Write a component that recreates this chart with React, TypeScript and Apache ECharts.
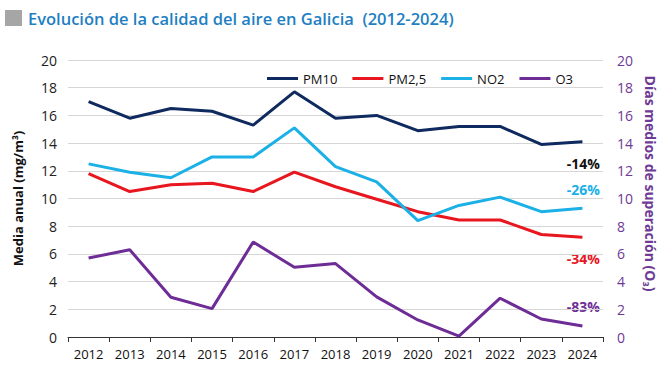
import React, { useEffect, useRef } from "react";
import * as echarts from "echarts";

const years = ["2012","2013","2014","2015","2016","2017","2018","2019","2020","2021","2022","2023","2024"];
const pm10 = [17.0, 15.8, 16.5, 16.3, 15.3, 17.7, 15.8, 16.0, 14.9, 15.2, 15.2, 13.9, 14.1];
const pm25 = [11.8, 10.5, 11.0, 11.1, 10.5, 11.9, 10.85, 9.95, 9.05, 8.45, 8.45, 7.4, 7.2];
const no2 = [12.5, 11.9, 11.5, 13.0, 13.0, 15.1, 12.3, 11.2, 8.4, 9.5, 10.1, 9.05, 9.3];
const o3 = [5.7, 6.3, 2.87, 2.05, 6.86, 5.03, 5.3, 2.9, 1.23, 0.07, 2.8, 1.3, 0.8];
const seriesNames = ["PM10", "PM2,5", "NO2", "O3"];
const changeLabels = ["-14%", "-26%", "-34%", "-83%"];
const titleText = "Evolución de la calidad del aire en Galicia  (2012-2024)";
const leftAxisName = "Media anual (mg/m³)";
const rightAxisName = "Días medios de superación (O₃)";

const colors = ["#0f2a5e", "#e8161e", "#1bb0e6", "#6e2c96"];
const FONT = "'Open Sans', 'Noto Sans', sans-serif";

export default function App() {
  const ref = useRef<HTMLDivElement>(null);
  useEffect(() => {
    document.body.style.margin = "0";
    const chart = echarts.init(ref.current!, null, { renderer: "svg" });
    const mk = (name: string, data: number[], color: string, yAxisIndex = 0) => ({
      name,
      type: "line",
      data,
      yAxisIndex,
      symbol: "none",
      lineStyle: { color, width: 3 },
      itemStyle: { color },
    });
    const annY = [163, 189, 258, 306];
    const annColors = ["#111", colors[2], colors[1], colors[3]];
    chart.setOption({
      animation: false,
      textStyle: { fontFamily: FONT },
      grid: { left: 68, right: 66, top: 60, bottom: 36 },
      legend: {
        left: 262,
        top: 67,
        icon: "rect",
        itemWidth: 31,
        itemHeight: 3,
        itemGap: 15,
        textStyle: { fontSize: 13, color: "#111", fontFamily: FONT },
        data: seriesNames,
      },
      xAxis: {
        type: "category",
        data: years,
        boundaryGap: true,
        axisLine: { lineStyle: { color: "#333", width: 1 } },
        axisTick: { show: true, length: 5, lineStyle: { color: "#333" } },
        axisLabel: { color: "#111", fontSize: 13, margin: 10 },
      },
      yAxis: [
        {
          type: "value",
          min: 0,
          max: 20,
          interval: 2,
          name: leftAxisName,
          nameLocation: "middle",
          nameGap: 44,
          nameTextStyle: { fontWeight: "bold", fontSize: 13, color: "#111" },
          axisLabel: { color: "#222", fontSize: 14, margin: 11 },
          axisLine: { show: false },
          axisTick: { show: false },
          splitLine: { lineStyle: { color: "#d6d6d6", width: 1 } },
        },
        {
          type: "value",
          min: 0,
          max: 20,
          interval: 2,
          position: "right",
          name: rightAxisName,
          nameLocation: "middle",
          nameGap: 37,
          nameRotate: -90,
          nameTextStyle: { fontWeight: "bold", fontSize: 14, color: "#6e3a96", padding: [0, 30, 0, 0] },
          axisLabel: { color: "#6e3a96", fontSize: 14, margin: 14 },
          axisLine: { show: false },
          axisTick: { show: false },
          splitLine: { show: false },
        },
      ],
      series: [
        mk(seriesNames[0], pm10, colors[0]),
        mk(seriesNames[1], pm25, colors[1]),
        mk(seriesNames[2], no2, colors[2]),
        mk(seriesNames[3], o3, colors[3], 1),
      ],
      graphic: [
        { type: "rect", shape: { x: 5, y: 10, width: 17, height: 16 }, style: { fill: "#a6a6a6" } },
        {
          type: "text",
          x: 28,
          y: 18,
          style: {
            text: titleText,
            fill: "#1f7fc2",
            font: `600 16.5px ${FONT}`,
            textVerticalAlign: "middle",
          },
        },
        ...changeLabels.map((t, i) => ({
          type: "text",
          x: 600,
          y: annY[i],
          style: {
            text: t,
            fill: annColors[i],
            font: `bold 14px ${FONT}`,
            textAlign: "right",
            textVerticalAlign: "middle",
          },
        })),
      ],
    });
    return () => chart.dispose();
  }, []);
  return <div ref={ref} style={{ width: 669, height: 373 }} />;
}
